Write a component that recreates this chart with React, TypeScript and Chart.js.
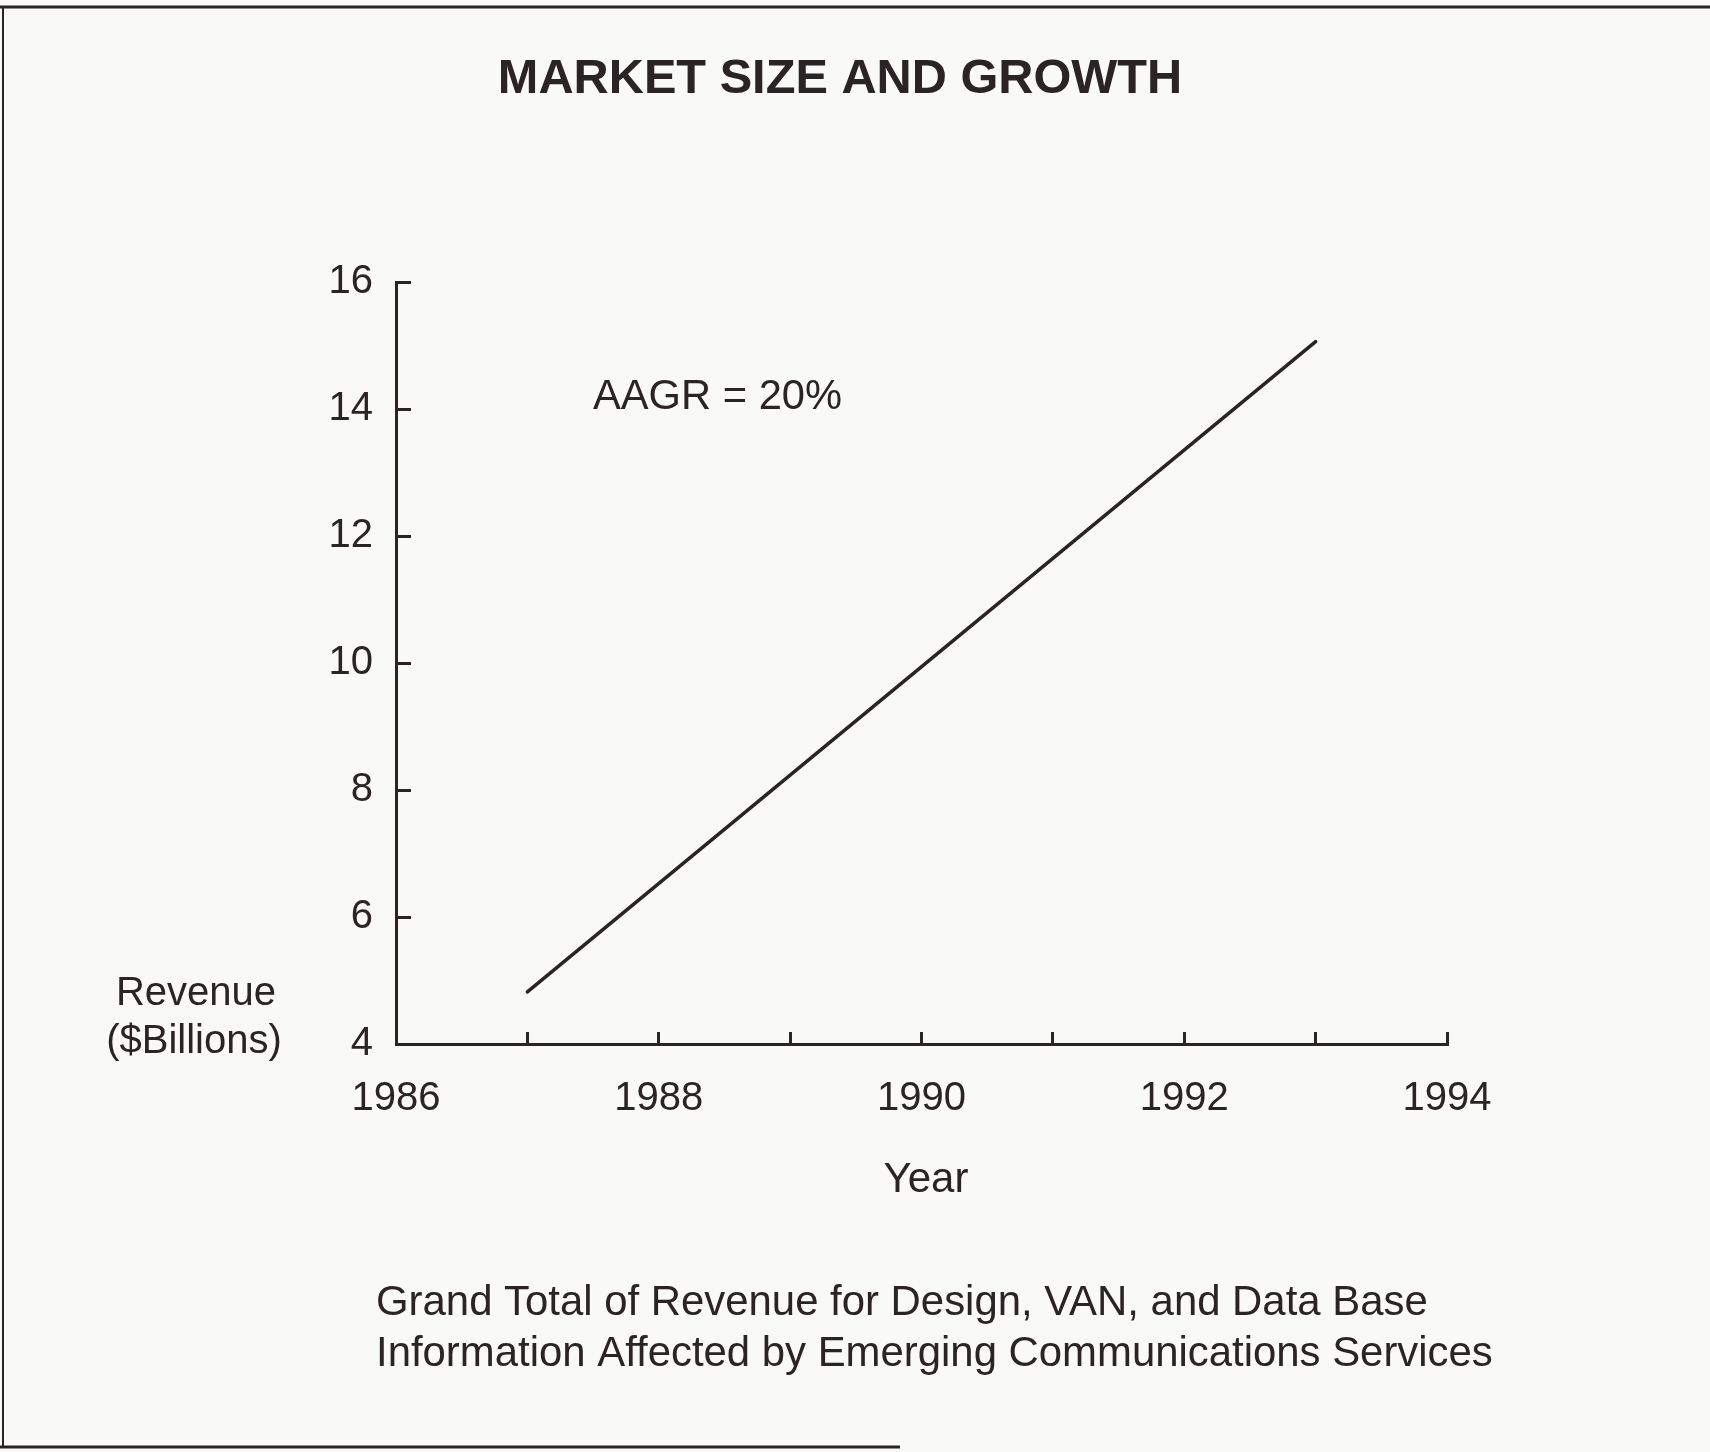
import React, { useEffect, useRef } from 'react';
import { Chart, registerables } from 'chart.js';

Chart.register(...registerables);

// ---- Data ----
const years = [1987, 1993];
const revenue = [4.82, 15.06];
const xRange = [1986, 1994];
const yRange = [4, 16];
const yStep = 2;

// ---- Texts ----
const titleText = 'MARKET SIZE AND GROWTH';
const annotationText = 'AAGR = 20%';
const yAxisLabel = ['Revenue', '($Billions)'];
const xAxisLabel = 'Year';
const captionLines = [
  'Grand Total of Revenue for Design, VAN, and Data Base',
  'Information Affected by Emerging Communications Services',
];

const W = 1710;
const H = 1452;
const INK = '#2a2426';
const BG = '#f9f9f7';
const FONT = '"Liberation Sans", Arial, Helvetica, sans-serif';

const decor = {
  id: 'decor',
  beforeDraw(chart: any) {
    const ctx = chart.ctx;
    ctx.save();
    ctx.fillStyle = BG;
    ctx.fillRect(0, 0, W, H);
    ctx.strokeStyle = INK;
    ctx.lineWidth = 3;
    ctx.beginPath();
    ctx.moveTo(0, 7);
    ctx.lineTo(W, 7);
    ctx.stroke();
    ctx.lineWidth = 2;
    ctx.beginPath();
    ctx.moveTo(3, 7);
    ctx.lineTo(3, 1447);
    ctx.stroke();
    ctx.lineWidth = 3;
    ctx.beginPath();
    ctx.moveTo(0, 1447);
    ctx.lineTo(900, 1447);
    ctx.stroke();
    ctx.restore();
  },
  afterDraw(chart: any) {
    const ctx = chart.ctx;
    ctx.save();
    ctx.fillStyle = INK;
    ctx.textBaseline = 'middle';

    ctx.font = `bold 48.7px ${FONT}`;
    ctx.textAlign = 'center';
    ctx.fillText(titleText, 840, 80);

    ctx.font = `41.7px ${FONT}`;
    ctx.textAlign = 'left';
    ctx.fillText(annotationText, 593, 398);

    ctx.font = `40px ${FONT}`;
    ctx.textAlign = 'center';
    ctx.fillText(yAxisLabel[0], 196, 994);
    ctx.fillText(yAxisLabel[1], 194, 1042);

    ctx.font = `42px ${FONT}`;
    ctx.textAlign = 'center';
    ctx.fillText(xAxisLabel, 926, 1180);

    ctx.font = `41.9px ${FONT}`;
    ctx.textAlign = 'left';
    ctx.fillText(captionLines[0], 376, 1303);
    ctx.fillText(captionLines[1], 376, 1354);
    ctx.restore();
  },
};

export default function App() {
  const ref = useRef<HTMLCanvasElement | null>(null);

  useEffect(() => {
    if (!ref.current) return;
    const chart = new Chart(ref.current, {
      type: 'line',
      data: {
        datasets: [
          {
            data: years.map((x, i) => ({ x, y: revenue[i] })),
            borderColor: INK,
            borderWidth: 3.5,
            pointRadius: 0,
            tension: 0,
            borderCapStyle: 'round',
            fill: false,
          },
        ],
      },
      options: {
        responsive: false,
        animation: false,
        devicePixelRatio: 1,
        layout: { padding: { left: 276, right: 263, top: 282, bottom: 248 } },
        plugins: { legend: { display: false }, tooltip: { enabled: false } },
        scales: {
          x: {
            type: 'linear',
            min: xRange[0],
            max: xRange[1],
            afterFit: (s: any) => {
              s.height = 160;
            },
            ticks: {
              stepSize: 1,
              autoSkip: false,
              maxRotation: 0,
              padding: 43,
              color: INK,
              font: { family: FONT, size: 40 },
              callback: (v: any) => (Number(v) % 2 === 0 ? String(v) : ''),
            },
            grid: {
              drawOnChartArea: false,
              drawTicks: true,
              tickLength: -12,
              tickWidth: 3,
              tickColor: INK,
            },
            border: { display: true, color: INK, width: 3 },
          },
          y: {
            type: 'linear',
            min: yRange[0],
            max: yRange[1],
            afterFit: (s: any) => {
              s.width = 120;
            },
            ticks: {
              stepSize: yStep,
              padding: 38,
              color: INK,
              font: { family: FONT, size: 40 },
            },
            grid: {
              drawOnChartArea: false,
              drawTicks: true,
              tickLength: -15,
              tickWidth: 3,
              tickColor: INK,
            },
            border: { display: true, color: INK, width: 3 },
          },
        },
      },
      plugins: [decor],
    });
    return () => chart.destroy();
  }, []);

  return (
    <div style={{ position: 'absolute', left: 0, top: 0, width: W, height: H }}>
      <canvas ref={ref} width={W} height={H} style={{ display: 'block', width: W, height: H }} />
    </div>
  );
}
